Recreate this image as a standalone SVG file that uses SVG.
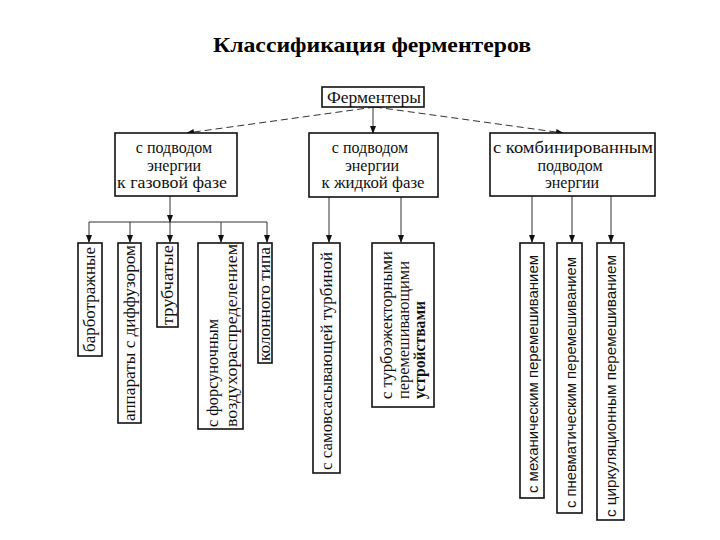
<svg xmlns="http://www.w3.org/2000/svg" width="720" height="540" viewBox="0 0 720 540">
<style>
.box{fill:#fff;stroke:#111;stroke-width:1.6}
.c{fill:none;stroke:#333;stroke-width:1}
.d{fill:none;stroke:#333;stroke-width:1;stroke-dasharray:7 4}
</style>
<defs>
<marker id="ah" markerUnits="userSpaceOnUse" markerWidth="8" markerHeight="6" refX="7" refY="3" orient="auto">
<path d="M0,0 L8,3 L0,6 z" fill="#111"/>
</marker>
</defs>
<rect width="720" height="540" fill="#fff"/>
<text x="372" y="52" text-anchor="middle" font-family="Liberation Serif,'Times New Roman',serif" font-size="22" font-weight="bold" textLength="318" lengthAdjust="spacingAndGlyphs" fill="#000">Классификация ферментеров</text>

<g id="connectors">
<path class="d" d="M375,107 L187,133" marker-end="url(#ah)"/>
<path class="d" d="M375,107 L563,133" marker-end="url(#ah)"/>
<path class="c" d="M373,107 L373,133" marker-end="url(#ah)"/>
<path class="c" d="M170,196 L170,222" marker-end="url(#ah)"/>
<path class="c" d="M89,222 L267,222"/>
<path class="c" d="M89,222 L89,242" marker-end="url(#ah)"/>
<path class="c" d="M130,222 L130,242" marker-end="url(#ah)"/>
<path class="c" d="M170,222 L170,242" marker-end="url(#ah)"/>
<path class="c" d="M221,222 L221,242" marker-end="url(#ah)"/>
<path class="c" d="M267,222 L267,242" marker-end="url(#ah)"/>
<path class="c" d="M329,197 L329,242" marker-end="url(#ah)"/>
<path class="c" d="M401,197 L401,242" marker-end="url(#ah)"/>
<path class="c" d="M532,196 L532,242" marker-end="url(#ah)"/>
<path class="c" d="M572,196 L572,242" marker-end="url(#ah)"/>
<path class="c" d="M611,196 L611,242" marker-end="url(#ah)"/>
</g>

<g id="root">
<rect class="box" x="322" y="87" width="102" height="20"/>
<text font-family="Liberation Serif,'Times New Roman',serif" font-size="16" fill="#111" x="374" y="103" text-anchor="middle" textLength="94" lengthAdjust="spacingAndGlyphs">Ферментеры</text>
</g>

<g id="gas">
<rect class="box" x="115" y="133" width="122" height="63"/>
<text font-family="Liberation Serif,'Times New Roman',serif" font-size="16" fill="#111" x="174" y="153" text-anchor="middle">с подводом</text>
<text font-family="Liberation Serif,'Times New Roman',serif" font-size="16" fill="#111" x="174" y="171" text-anchor="middle">энергии</text>
<text font-family="Liberation Serif,'Times New Roman',serif" font-size="16" fill="#111" x="172" y="188" text-anchor="middle" textLength="110" lengthAdjust="spacingAndGlyphs">к газовой фазе</text>
</g>

<g id="liquid">
<rect class="box" x="309" y="133" width="129" height="64"/>
<text font-family="Liberation Serif,'Times New Roman',serif" font-size="16" fill="#111" x="370" y="153" text-anchor="middle">с подводом</text>
<text font-family="Liberation Serif,'Times New Roman',serif" font-size="16" fill="#111" x="372" y="171" text-anchor="middle">энергии</text>
<text font-family="Liberation Serif,'Times New Roman',serif" font-size="16" fill="#111" x="373" y="188" text-anchor="middle" textLength="103" lengthAdjust="spacingAndGlyphs">к жидкой фазе</text>
</g>

<g id="combined">
<rect class="box" x="490" y="133" width="165" height="63"/>
<text font-family="Liberation Serif,'Times New Roman',serif" font-size="16" fill="#111" x="573" y="153" text-anchor="middle" textLength="160" lengthAdjust="spacingAndGlyphs">с комбинированным</text>
<text font-family="Liberation Serif,'Times New Roman',serif" font-size="16" fill="#111" x="570" y="171" text-anchor="middle">подводом</text>
<text font-family="Liberation Serif,'Times New Roman',serif" font-size="16" fill="#111" x="572" y="188" text-anchor="middle">энергии</text>
</g>

<g id="n1">
<rect class="box" x="78" y="243" width="24" height="113"/>
<text font-family="Liberation Serif,'Times New Roman',serif" font-size="17" fill="#111" transform="translate(95,352) rotate(-90)" textLength="105" lengthAdjust="spacingAndGlyphs">барботражные</text>
</g>
<g id="n2">
<rect class="box" x="118" y="243" width="23" height="180"/>
<text font-family="Liberation Serif,'Times New Roman',serif" font-size="17" fill="#111" transform="translate(135,421) rotate(-90)" textLength="176" lengthAdjust="spacingAndGlyphs">аппараты с диффузором</text>
</g>
<g id="n3">
<rect class="box" x="157" y="243" width="21" height="84"/>
<text font-family="Liberation Serif,'Times New Roman',serif" font-size="17" fill="#111" transform="translate(173,325) rotate(-90)" textLength="80" lengthAdjust="spacingAndGlyphs">трубчатые</text>
</g>
<g id="n4">
<rect class="box" x="198" y="243" width="45" height="186"/>
<text font-family="Liberation Serif,'Times New Roman',serif" font-size="17" fill="#111" transform="translate(218,427) rotate(-90)" textLength="108" lengthAdjust="spacingAndGlyphs">с форсуночным</text>
<text font-family="Liberation Serif,'Times New Roman',serif" font-size="17" fill="#111" transform="translate(237,427) rotate(-90)" textLength="183" lengthAdjust="spacingAndGlyphs">воздухораспределением</text>
</g>
<g id="n5">
<rect class="box" x="258" y="243" width="14" height="120"/>
<text font-family="Liberation Serif,'Times New Roman',serif" font-size="17" fill="#111" transform="translate(270,361) rotate(-90)" textLength="114" lengthAdjust="spacingAndGlyphs">колонного типа</text>
</g>
<g id="n6">
<rect class="box" x="313" y="243" width="27" height="230"/>
<text font-family="Liberation Serif,'Times New Roman',serif" font-size="17" fill="#111" transform="translate(332,470) rotate(-90)" textLength="218" lengthAdjust="spacingAndGlyphs">с самовсасывающей турбиной</text>
</g>
<g id="n7">
<rect class="box" x="372" y="243" width="62" height="164"/>
<text font-family="Liberation Serif,'Times New Roman',serif" font-size="17" fill="#111" transform="translate(392,399) rotate(-90)" textLength="148" lengthAdjust="spacingAndGlyphs">с турбоэжекторными</text>
<text font-family="Liberation Serif,'Times New Roman',serif" font-size="17" fill="#111" transform="translate(409,399) rotate(-90)" textLength="138" lengthAdjust="spacingAndGlyphs">перемешивающими</text>
<text font-family="Liberation Serif,'Times New Roman',serif" font-size="17" fill="#111" transform="translate(425,399) rotate(-90)" font-weight="bold" textLength="98" lengthAdjust="spacingAndGlyphs">устройствами</text>
</g>
<g id="n8">
<rect class="box" x="520" y="243" width="24" height="255"/>
<text font-family="Liberation Sans,Arial,sans-serif" font-size="15" fill="#111" transform="translate(538,493) rotate(-90)" textLength="238" lengthAdjust="spacingAndGlyphs">с механическим перемешиванием</text>
</g>
<g id="n9">
<rect class="box" x="557" y="243" width="25" height="270"/>
<text font-family="Liberation Sans,Arial,sans-serif" font-size="15" fill="#111" transform="translate(576,508) rotate(-90)" textLength="251" lengthAdjust="spacingAndGlyphs">с пневматическим перемешиванием</text>
</g>
<g id="n10">
<rect class="box" x="597" y="243" width="27" height="277"/>
<text font-family="Liberation Sans,Arial,sans-serif" font-size="15" fill="#111" transform="translate(616,517) rotate(-90)" textLength="262" lengthAdjust="spacingAndGlyphs">с циркуляционным перемешиванием</text>
</g>
</svg>
